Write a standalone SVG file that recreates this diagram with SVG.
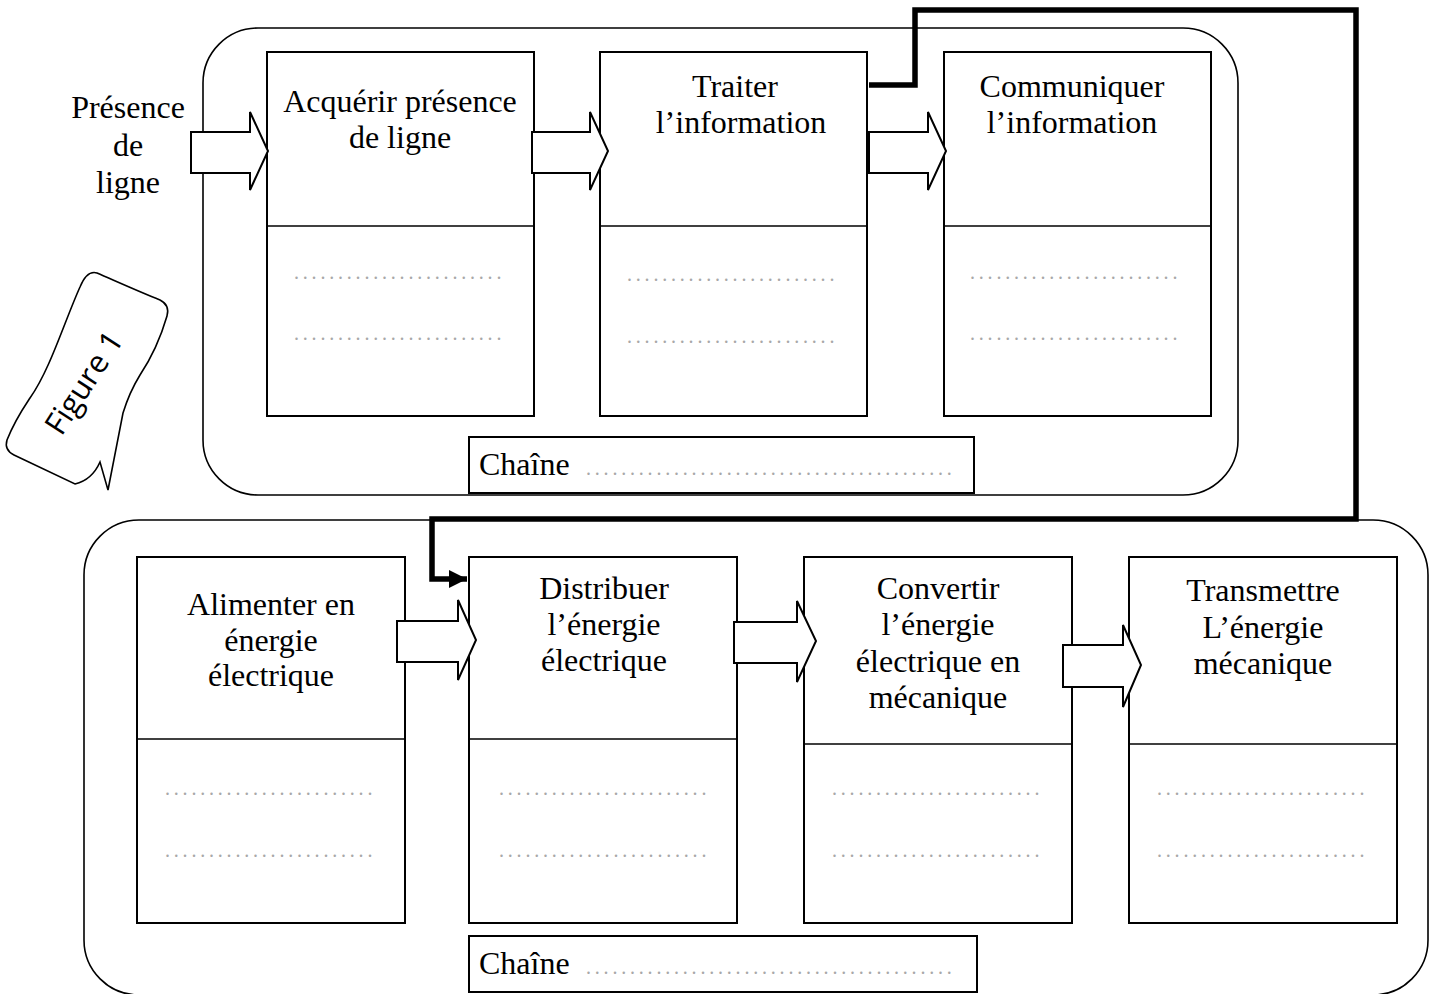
<svg xmlns="http://www.w3.org/2000/svg" width="1430" height="994" viewBox="0 0 1430 994">
<defs>
<style>
.cont{fill:none;stroke:#000;stroke-width:1.6}
.box{fill:#fff;stroke:#000;stroke-width:2}
.div{stroke:#000;stroke-width:1.6}
.t{font-family:"Liberation Serif","Times New Roman",serif;font-size:32px;fill:#000}
.c{text-anchor:middle}
.dots{font-family:"Liberation Serif","Times New Roman",serif;font-size:20px;fill:#a8a8a8;letter-spacing:3.8px}
.blk{fill:#fff;stroke:#000;stroke-width:2;stroke-linejoin:miter}
.thick{fill:none;stroke:#000;stroke-width:5.5;stroke-linejoin:miter}
</style>
<marker id="ah" markerUnits="userSpaceOnUse" markerWidth="20" markerHeight="20" viewBox="0 0 20 20" refX="18" refY="9" orient="auto">
<path d="M0 0 L18 9 L0 18 Z" fill="#000"/>
</marker>
</defs>
<rect width="1430" height="994" fill="#fff"/>

<g id="container-info">
<rect class="cont" x="203" y="28" width="1035" height="467" rx="55"/>
</g>
<g id="container-energie">
<rect class="cont" x="84" y="520" width="1344" height="475" rx="55"/>
</g>

<g id="label-presence">
<text class="t c" x="128" y="118">Présence</text>
<text class="t c" x="128" y="156">de</text>
<text class="t c" x="128" y="193">ligne</text>
</g>

<g id="node-acquerir">
<rect class="box" x="267" y="52" width="267" height="364"/>
<line class="div" x1="267" y1="226" x2="534" y2="226"/>
<text class="t c" x="400" y="112">Acquérir présence</text>
<text class="t c" x="400" y="148">de ligne</text>
<text class="dots" x="294" y="279">........................</text>
<text class="dots" x="294" y="340">........................</text>
</g>

<g id="node-traiter">
<rect class="box" x="600" y="52" width="267" height="364"/>
<line class="div" x1="600" y1="226" x2="867" y2="226"/>
<text class="t c" x="735" y="97">Traiter</text>
<text class="t c" x="741" y="133">l’information</text>
<text class="dots" x="627" y="281">........................</text>
<text class="dots" x="627" y="343">........................</text>
</g>

<g id="node-communiquer">
<rect class="box" x="944" y="52" width="267" height="364"/>
<line class="div" x1="944" y1="226" x2="1211" y2="226"/>
<text class="t c" x="1072" y="97">Communiquer</text>
<text class="t c" x="1072" y="133">l’information</text>
<text class="dots" x="970" y="279">........................</text>
<text class="dots" x="970" y="340">........................</text>
</g>

<g id="chaine-info">
<rect class="box" x="469" y="437" width="505" height="56"/>
<text class="t" x="479" y="475">Chaîne</text>
<text class="dots" x="586" y="475">..........................................</text>
</g>

<g id="node-alimenter">
<rect class="box" x="137" y="557" width="268" height="366"/>
<line class="div" x1="137" y1="739" x2="405" y2="739"/>
<text class="t c" x="271" y="615">Alimenter en</text>
<text class="t c" x="271" y="651">énergie</text>
<text class="t c" x="271" y="686">électrique</text>
<text class="dots" x="165" y="795">........................</text>
<text class="dots" x="165" y="857">........................</text>
</g>

<g id="node-distribuer">
<rect class="box" x="469" y="557" width="268" height="366"/>
<line class="div" x1="469" y1="739" x2="737" y2="739"/>
<text class="t c" x="604" y="599">Distribuer</text>
<text class="t c" x="604" y="635">l’énergie</text>
<text class="t c" x="604" y="671">électrique</text>
<text class="dots" x="499" y="795">........................</text>
<text class="dots" x="499" y="857">........................</text>
</g>

<g id="node-convertir">
<rect class="box" x="804" y="557" width="268" height="366"/>
<line class="div" x1="804" y1="744" x2="1072" y2="744"/>
<text class="t c" x="938" y="599">Convertir</text>
<text class="t c" x="938" y="635">l’énergie</text>
<text class="t c" x="938" y="672">électrique en</text>
<text class="t c" x="938" y="708">mécanique</text>
<text class="dots" x="832" y="795">........................</text>
<text class="dots" x="832" y="857">........................</text>
</g>

<g id="node-transmettre">
<rect class="box" x="1129" y="557" width="268" height="366"/>
<line class="div" x1="1129" y1="744" x2="1397" y2="744"/>
<text class="t c" x="1263" y="601">Transmettre</text>
<text class="t c" x="1263" y="638">L’énergie</text>
<text class="t c" x="1263" y="674">mécanique</text>
<text class="dots" x="1157" y="795">........................</text>
<text class="dots" x="1157" y="857">........................</text>
</g>

<g id="chaine-energie">
<rect class="box" x="469" y="936" width="508" height="56"/>
<text class="t" x="479" y="974">Chaîne</text>
<text class="dots" x="586" y="974">..........................................</text>
</g>

<g id="figure-callout">
<path d="M97 273 C120 283 140 292 160 300 Q170 305 167 316 C160 340 150 360 140 375 C132 388 127 400 123 413 L108 490 L100 462 Q92 480 75 484 L14 455 Q4 450 7 440 C15 420 22 410 30 398 C50 370 65 320 80 287 Q87 270 97 273 Z" fill="#fff" stroke="#000" stroke-width="1.6"/>
<text x="0" y="0" transform="translate(86 384) rotate(-57)" text-anchor="middle" dominant-baseline="middle" font-family="Open Sans, Noto Sans, sans-serif" font-size="31">Figure 1</text>
</g>

<g id="connectors">
<path class="blk" d="M191 132 H250 V112 L268 151 L250 190 V173 H191 Z"/>
<path class="blk" d="M532 132 H590 V112 L608 151 L590 190 V173 H532 Z"/>
<path class="blk" d="M869 132 H928 V112 L946 151 L928 190 V173 H869 Z"/>
<path class="blk" d="M397 621 H458 V600 L476 640 L458 680 V662 H397 Z"/>
<path class="blk" d="M734 622 H797 V601 L816 641 L797 682 V663 H734 Z"/>
<path class="blk" d="M1063 645 H1123 V625 L1141 665 L1123 707 V687 H1063 Z"/>
<polyline class="thick" points="869,85 915,85 915,10 1356,10 1356,519 432,519 432,579 467,579" marker-end="url(#ah)"/>
</g>
</svg>
